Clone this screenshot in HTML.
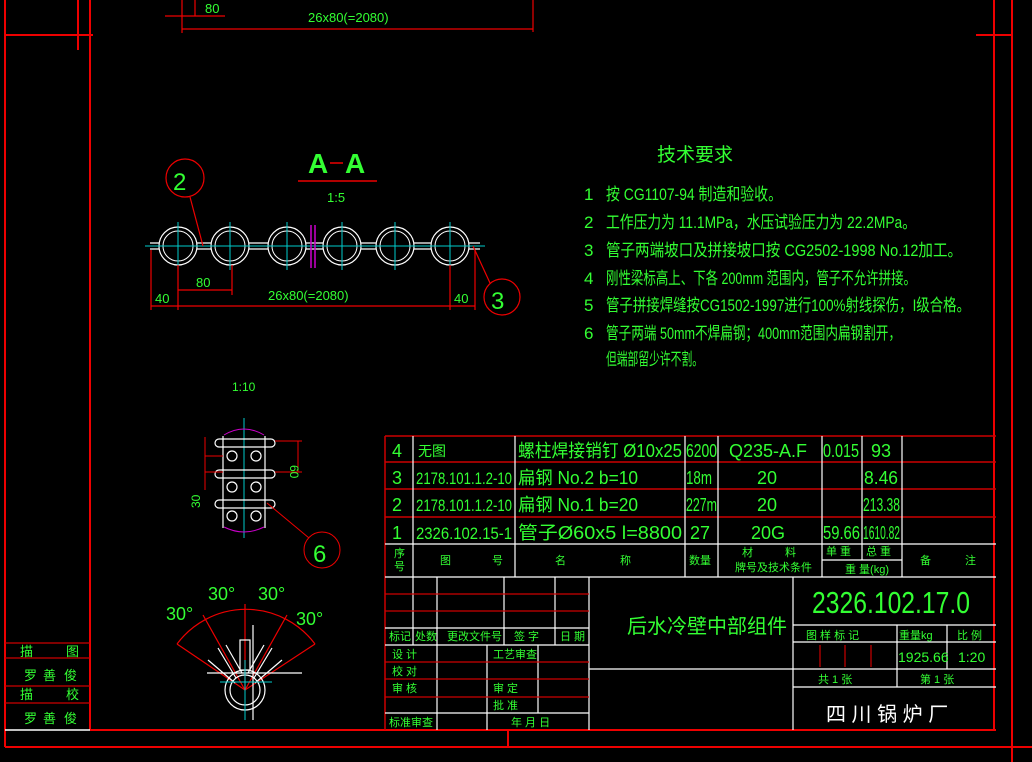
<!DOCTYPE html>
<html><head><meta charset="utf-8"><style>
html,body{margin:0;padding:0;background:#000;width:1032px;height:762px;overflow:hidden}
svg{display:block}
text{font-family:"Liberation Sans","Noto Sans CJK SC",sans-serif;fill:#3f3}
</style></head><body>
<svg width="1032" height="762" viewBox="0 0 1032 762" xmlns="http://www.w3.org/2000/svg">
<g stroke="#e00" stroke-width="2" fill="none">
<line x1="5" y1="0" x2="5" y2="747"/>
<line x1="5" y1="747" x2="1032" y2="747"/>
<line x1="78" y1="0" x2="78" y2="50"/>
<line x1="5" y1="35" x2="93" y2="35"/>
<line x1="90" y1="0" x2="90" y2="730"/>
<line x1="90" y1="730" x2="996" y2="730"/>
<line x1="994" y1="0" x2="994" y2="730"/>
<line x1="1012" y1="0" x2="1012" y2="762"/>
<line x1="976" y1="35" x2="1012" y2="35"/>
<line x1="508" y1="730" x2="508" y2="746"/>
</g>
<line x1="5" y1="730" x2="90" y2="730" stroke="#fff" stroke-width="1.5"/>
<g stroke="#c00" stroke-width="1.2"><line x1="5" y1="643" x2="90" y2="643"/><line x1="5" y1="658" x2="90" y2="658"/><line x1="5" y1="686" x2="90" y2="686"/><line x1="5" y1="703" x2="90" y2="703"/></g>
<g font-size="13"><text x="20" y="656">描</text><text x="66" y="656">图</text><text x="24" y="680">罗</text><text x="43" y="680">善</text><text x="64" y="680">俊</text><text x="20" y="699">描</text><text x="66" y="699">校</text><text x="24" y="723">罗</text><text x="43" y="723">善</text><text x="64" y="723">俊</text></g>
<g stroke="#e00" stroke-width="1.2" fill="none"><line x1="182" y1="0" x2="182" y2="33"/><line x1="533" y1="0" x2="533" y2="32"/><line x1="165" y1="16" x2="225" y2="16"/><line x1="182" y1="29" x2="533" y2="29"/><line x1="195" y1="0" x2="195" y2="16"/></g>
<text x="205" y="13" font-size="13">80</text>
<text x="308" y="22" font-size="13">26x80(=2080)</text>
<text x="308" y="173" font-size="28" font-weight="bold">A</text><text x="345" y="173" font-size="28" font-weight="bold">A</text>
<line x1="330" y1="163" x2="343" y2="163" stroke="#e00" stroke-width="1.5"/>
<line x1="298" y1="181" x2="377" y2="181" stroke="#e00" stroke-width="1.5"/>
<text x="327" y="202" font-size="13">1:5</text>
<g stroke="#fff" stroke-width="1.2" fill="none">
<line x1="150" y1="243" x2="480" y2="243"/><line x1="150" y1="249" x2="480" y2="249"/>
</g>
<g stroke="#fff" stroke-width="1.2" fill="#000">
<circle cx="178" cy="246" r="19"/><circle cx="230" cy="246" r="19"/><circle cx="287" cy="246" r="19"/><circle cx="342" cy="246" r="19"/><circle cx="395" cy="246" r="19"/><circle cx="450" cy="246" r="19"/>
</g>
<g stroke="#fff" stroke-width="1" fill="none">
<circle cx="178" cy="246" r="15"/><circle cx="230" cy="246" r="15"/><circle cx="287" cy="246" r="15"/><circle cx="342" cy="246" r="15"/><circle cx="395" cy="246" r="15"/><circle cx="450" cy="246" r="15"/>
</g>
<g stroke="#0cc" stroke-width="1">
<line x1="145" y1="246" x2="485" y2="246"/>
<line x1="178" y1="222" x2="178" y2="270"/><line x1="230" y1="222" x2="230" y2="270"/><line x1="287" y1="222" x2="287" y2="270"/><line x1="342" y1="222" x2="342" y2="270"/><line x1="395" y1="222" x2="395" y2="270"/><line x1="450" y1="222" x2="450" y2="270"/>
</g>
<g stroke="#c0c" stroke-width="1.5"><line x1="311" y1="225" x2="311" y2="268"/><line x1="315" y1="225" x2="315" y2="268"/></g>
<g stroke="#e00" stroke-width="1.2" fill="none">
<line x1="151" y1="250" x2="151" y2="310"/><line x1="178" y1="265" x2="178" y2="310"/><line x1="232" y1="265" x2="232" y2="295"/><line x1="450" y1="265" x2="450" y2="310"/><line x1="475" y1="250" x2="475" y2="310"/>
<line x1="178" y1="290" x2="232" y2="290"/><line x1="151" y1="306" x2="475" y2="306"/>
<circle cx="185" cy="178" r="19"/>
<line x1="190" y1="197" x2="203" y2="246"/>
<circle cx="502" cy="297" r="18"/>
<line x1="473" y1="246" x2="490" y2="283"/>
</g>
<text x="173" y="190" font-size="24">2</text>
<text x="491" y="309" font-size="24">3</text>
<text x="196" y="287" font-size="13">80</text>
<text x="155" y="303" font-size="13">40</text>
<text x="268" y="300" font-size="13">26x80(=2080)</text>
<text x="454" y="303" font-size="13">40</text>
<text x="232" y="391" font-size="12">1:10</text>
<g stroke="#0cc" stroke-width="1"><line x1="244" y1="418" x2="244" y2="538"/></g>
<g stroke="#c0c" stroke-width="1" fill="none"><path d="M224 435 Q244 423 264 435"/><path d="M224 527 Q244 537 264 527"/></g>
<g stroke="#fff" stroke-width="1.2" fill="none">
<line x1="223" y1="436" x2="223" y2="528"/><line x1="265" y1="436" x2="265" y2="528"/>
<rect x="215" y="439" width="60" height="8" rx="4"/><rect x="215" y="470" width="60" height="8" rx="4"/><rect x="215" y="500" width="60" height="8" rx="4"/>
<circle cx="232" cy="456" r="5"/><circle cx="256" cy="456" r="5"/><circle cx="232" cy="487" r="5"/><circle cx="256" cy="487" r="5"/><circle cx="232" cy="516" r="5"/><circle cx="256" cy="516" r="5"/>
</g>
<g stroke="#e00" stroke-width="1" fill="none">
<line x1="275" y1="441" x2="302" y2="441"/><line x1="275" y1="472" x2="302" y2="472"/><line x1="298" y1="441" x2="298" y2="472"/>
<line x1="205" y1="456" x2="223" y2="456"/><line x1="205" y1="472" x2="223" y2="472"/><line x1="205" y1="437" x2="205" y2="490"/>
<circle cx="322" cy="550" r="18"/>
<line x1="267" y1="503" x2="309" y2="538"/>
</g>
<text x="290" y="465" font-size="12" transform="rotate(90 290 465)">60</text>
<text x="188" y="500" font-size="12" transform="rotate(-90 198 498)">30</text>
<text x="313" y="562" font-size="24">6</text>
<g stroke="#e00" stroke-width="1.2" fill="none">
<path d="M177 644 A86 86 0 0 1 315 644"/>
<line x1="245" y1="690" x2="245" y2="604"/>
<line x1="245" y1="690" x2="203" y2="615"/><line x1="245" y1="690" x2="287" y2="615"/>
<line x1="245" y1="690" x2="177" y2="644"/><line x1="245" y1="690" x2="315" y2="644"/>
</g>
<text x="208" y="600" font-size="18">30°</text><text x="258" y="600" font-size="18">30°</text>
<text x="166" y="620" font-size="18">30°</text><text x="296" y="625" font-size="18">30°</text>
<g stroke="#fff" stroke-width="1.2" fill="none">
<circle cx="245" cy="690" r="20"/><circle cx="245" cy="690" r="15"/>
<line x1="207" y1="673" x2="302" y2="673"/>
<rect x="240" y="640" width="10" height="30"/>
<line x1="218" y1="648" x2="236" y2="678"/><line x1="226" y1="645" x2="242" y2="673"/>
<line x1="272" y1="648" x2="254" y2="678"/><line x1="264" y1="645" x2="248" y2="673"/>
<line x1="208" y1="660" x2="235" y2="683"/><line x1="282" y1="660" x2="255" y2="683"/>
<line x1="253" y1="625" x2="253" y2="720"/>
</g>
<g stroke="#0cc" stroke-width="1"><line x1="220" y1="682" x2="272" y2="682"/><line x1="245" y1="660" x2="245" y2="720"/></g>
<g font-size="17"><text x="657" y="161" font-size="19">技术要求</text>
<text x="584" y="200">1</text><text x="606" y="200" textLength="176" lengthAdjust="spacingAndGlyphs">按 CG1107-94 制造和验收。</text>
<text x="584" y="228">2</text><text x="606" y="228" textLength="310" lengthAdjust="spacingAndGlyphs">工作压力为 11.1MPa，水压试验压力为 22.2MPa。</text>
<text x="584" y="256">3</text><text x="606" y="256" textLength="356" lengthAdjust="spacingAndGlyphs">管子两端坡口及拼接坡口按 CG2502-1998 No.12加工。</text>
<text x="584" y="284">4</text><text x="606" y="284" textLength="310" lengthAdjust="spacingAndGlyphs">刚性梁标高上、下各 200mm  范围内，管子不允许拼接。</text>
<text x="584" y="311">5</text><text x="606" y="311" textLength="364" lengthAdjust="spacingAndGlyphs">管子拼接焊缝按CG1502-1997进行100%射线探伤，I级合格。</text>
<text x="584" y="339">6</text><text x="606" y="339" textLength="295" lengthAdjust="spacingAndGlyphs">管子两端 50mm不焊扁钢；400mm范围内扁钢割开，</text>
<text x="606" y="365" textLength="97" lengthAdjust="spacingAndGlyphs">但端部留少许不割。</text></g>
<g stroke="#c00" stroke-width="1.5" fill="none">
<line x1="385" y1="436" x2="996" y2="436"/><line x1="385" y1="462" x2="996" y2="462"/><line x1="385" y1="489" x2="996" y2="489"/><line x1="385" y1="517" x2="996" y2="517"/>
<line x1="385" y1="436" x2="385" y2="730"/>
</g>
<g stroke="#fff" stroke-width="1.2" fill="none">
<line x1="385" y1="544" x2="996" y2="544"/><line x1="385" y1="577" x2="996" y2="577"/>
<line x1="413" y1="436" x2="413" y2="577"/><line x1="515" y1="436" x2="515" y2="577"/><line x1="685" y1="436" x2="685" y2="577"/><line x1="718" y1="436" x2="718" y2="577"/><line x1="822" y1="436" x2="822" y2="577"/><line x1="862" y1="436" x2="862" y2="560"/><line x1="902" y1="436" x2="902" y2="577"/>
<line x1="822" y1="560" x2="902" y2="560"/>
<line x1="413" y1="577" x2="413" y2="645"/><line x1="437" y1="577" x2="437" y2="645"/><line x1="504" y1="577" x2="504" y2="645"/><line x1="555" y1="577" x2="555" y2="645"/><line x1="589" y1="577" x2="589" y2="730"/><line x1="793" y1="577" x2="793" y2="730"/>
<line x1="385" y1="628" x2="589" y2="628"/><line x1="385" y1="645" x2="589" y2="645"/>
<line x1="437" y1="645" x2="437" y2="730"/><line x1="487" y1="645" x2="487" y2="730"/><line x1="538" y1="645" x2="538" y2="713"/>
<line x1="385" y1="713" x2="589" y2="713"/><line x1="589" y1="669" x2="793" y2="669"/>
<line x1="793" y1="625" x2="996" y2="625"/><line x1="793" y1="642" x2="996" y2="642"/><line x1="793" y1="669" x2="996" y2="669"/><line x1="793" y1="687" x2="996" y2="687"/>
<line x1="897" y1="625" x2="897" y2="687"/><line x1="947" y1="625" x2="947" y2="669"/>
</g>
<g stroke="#c00" stroke-width="1.2">
<line x1="385" y1="594" x2="589" y2="594"/><line x1="385" y1="611" x2="589" y2="611"/>
<line x1="385" y1="662" x2="589" y2="662"/><line x1="385" y1="679" x2="589" y2="679"/><line x1="385" y1="697" x2="589" y2="697"/>
<line x1="820" y1="645" x2="820" y2="667"/><line x1="845" y1="645" x2="845" y2="667"/><line x1="871" y1="645" x2="871" y2="667"/>
</g>
<g font-size="18">
<text x="392" y="457">4</text><text x="392" y="484">3</text><text x="392" y="511">2</text><text x="392" y="539">1</text>
<text x="418" y="456" font-size="14">无图</text>
<text x="416" y="484" font-size="17" textLength="96" lengthAdjust="spacingAndGlyphs">2178.101.1.2-10</text>
<text x="416" y="511" font-size="17" textLength="96" lengthAdjust="spacingAndGlyphs">2178.101.1.2-10</text>
<text x="416" y="539" font-size="17" textLength="96" lengthAdjust="spacingAndGlyphs">2326.102.15-1</text>
<text x="518" y="457" textLength="164" lengthAdjust="spacingAndGlyphs">螺柱焊接销钉 Ø10x25</text>
<text x="518" y="484" textLength="120" lengthAdjust="spacingAndGlyphs">扁钢 No.2 b=10</text>
<text x="518" y="511" textLength="120" lengthAdjust="spacingAndGlyphs">扁钢 No.1 b=20</text>
<text x="518" y="539" textLength="164" lengthAdjust="spacingAndGlyphs">管子Ø60x5 l=8800</text>
<text x="686" y="457" textLength="31" lengthAdjust="spacingAndGlyphs">6200</text>
<text x="686" y="484" textLength="26" lengthAdjust="spacingAndGlyphs">18m</text>
<text x="686" y="511" textLength="31" lengthAdjust="spacingAndGlyphs">227m</text>
<text x="690" y="539">27</text>
<text x="729" y="457">Q235-A.F</text><text x="757" y="484">20</text><text x="757" y="511">20</text><text x="751" y="539">20G</text>
<text x="823" y="457" textLength="36" lengthAdjust="spacingAndGlyphs">0.015</text>
<text x="871" y="457">93</text>
<text x="864" y="484" textLength="34" lengthAdjust="spacingAndGlyphs">8.46</text>
<text x="863" y="511" textLength="37" lengthAdjust="spacingAndGlyphs">213.38</text>
<text x="823" y="539" textLength="37" lengthAdjust="spacingAndGlyphs">59.66</text>
<text x="863" y="539" textLength="37" lengthAdjust="spacingAndGlyphs">1610.82</text>
</g>
<g font-size="11">
<text x="394" y="557">序</text><text x="394" y="570">号</text>
<text x="440" y="564">图</text><text x="492" y="564">号</text>
<text x="555" y="564">名</text><text x="620" y="564">称</text>
<text x="689" y="564">数量</text>
<text x="742" y="556">材</text><text x="785" y="556">料</text><text x="735" y="571">牌号及技术条件</text>
<text x="826" y="555">单  重</text><text x="866" y="555">总  重</text><text x="845" y="573">重 量(kg)</text>
<text x="920" y="564">备</text><text x="965" y="564">注</text>
<text x="389" y="640">标记</text><text x="415" y="640">处数</text><text x="447" y="640">更改文件号</text><text x="514" y="640">签  字</text><text x="560" y="640">日 期</text>
<text x="392" y="658">设  计</text><text x="392" y="675">校  对</text><text x="392" y="692">审  核</text><text x="389" y="726">标准审查</text>
<text x="493" y="658">工艺审查</text><text x="493" y="692">审  定</text><text x="493" y="709">批  准</text><text x="511" y="726">年   月   日</text>
<text x="806" y="639">图  样  标  记</text><text x="899" y="639">重量kg</text><text x="957" y="639">比  例</text>
<text x="818" y="683">共  1  张</text><text x="920" y="683">第  1  张</text>
</g>
<text x="898" y="662" font-size="14">1925.66</text><text x="958" y="662" font-size="14">1:20</text>
<text x="627" y="633" font-size="20">后水冷壁中部组件</text>
<text x="812" y="613" font-size="31" textLength="158" lengthAdjust="spacingAndGlyphs">2326.102.17.0</text>
<text x="826" y="721" font-size="20" style="fill:#fff">四 川 锅 炉 厂</text>
</svg>
</body></html>
